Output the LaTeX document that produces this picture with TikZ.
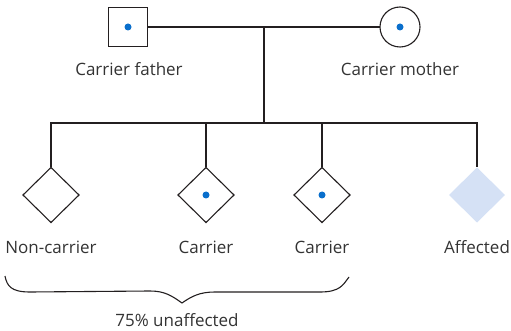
\documentclass[tikz,border=0pt]{standalone}
\usepackage{fontspec}
\setmainfont{Open Sans}
\usetikzlibrary{shapes.geometric}
\definecolor{txt}{HTML}{333333}
\definecolor{ln}{HTML}{231F20}
\definecolor{dotc}{HTML}{0A6FCC}
\definecolor{aff}{HTML}{D5E1F5}
\begin{document}
\begin{tikzpicture}[x=1pt,y=-1pt,
  line width=1.4pt,
  person/.style={draw=ln,line width=1.1pt,inner sep=0pt,outer sep=0pt},
  sq/.style={person,rectangle,minimum size=39pt},
  circ/.style={person,circle,minimum size=40pt},
  dia/.style={person,diamond,minimum width=56pt,minimum height=55pt},
  affdia/.style={diamond,fill=aff,inner sep=0pt,outer sep=0pt,minimum width=56pt,minimum height=55pt},
  lbl/.style={text=txt,font=\fontsize{17}{20}\selectfont,inner sep=0pt},
  dotm/.style={circle,fill=dotc,inner sep=0pt,minimum size=7pt}]
\useasboundingbox (0,0) rectangle (511,331);
\node[sq] (f) at (128,27) {};
\node[circ] (m) at (400,27) {};
\node[dotm] (fd) at (f.center) {};
\node[dotm] (md) at (m.center) {};
\coordinate (j) at (264,27);
\coordinate (k) at (264,123);
\draw[ln] (f.east) -- (m.west);
\draw[ln] (j) -- (k);
\node[dia] (c1) at (51,195) {};
\node[dia] (c2) at (206,195) {};
\node[dia] (c3) at (322,195) {};
\node[affdia] (c4) at (477,195) {};
\node[dotm] (d2) at (c2.center) {};
\node[dotm] (d3) at (c3.center) {};
\coordinate (h1) at (51,123);
\coordinate (h4) at (477,123);
\draw[ln] (c1.north) -- (h1) -- (h4) -- (c4.north);
\draw[ln] (c2.north) -- (c2.north |- k);
\draw[ln] (c3.north) -- (c3.north |- k);
\node[lbl] (lf) at (129,69) {Carrier father};
\node[lbl] (lm) at (400,69) {Carrier mother};
\node[lbl] (l1) at (51,247) {Non-carrier};
\node[lbl] (l2) at (206,247) {Carrier};
\node[lbl] (l3) at (322,247) {Carrier};
\node[lbl] (l4) at (477,247) {Affected};
\coordinate (b1) at (5,276);
\coordinate (bt) at (182,303);
\coordinate (b2) at (349,277);
\draw[ln,line width=1.1pt] (b1) .. controls (7,286) and (11,292) .. (30,292)
  -- (150,291) .. controls (165,291) and (172,296) .. (bt)
  .. controls (192,296) and (200,292) .. (215,292) -- (320,292)
  .. controls (340,292) and (343,285) .. (b2);
\node[lbl] (lb) at (177,320) {75\% unaffected};
\end{tikzpicture}
\end{document}
